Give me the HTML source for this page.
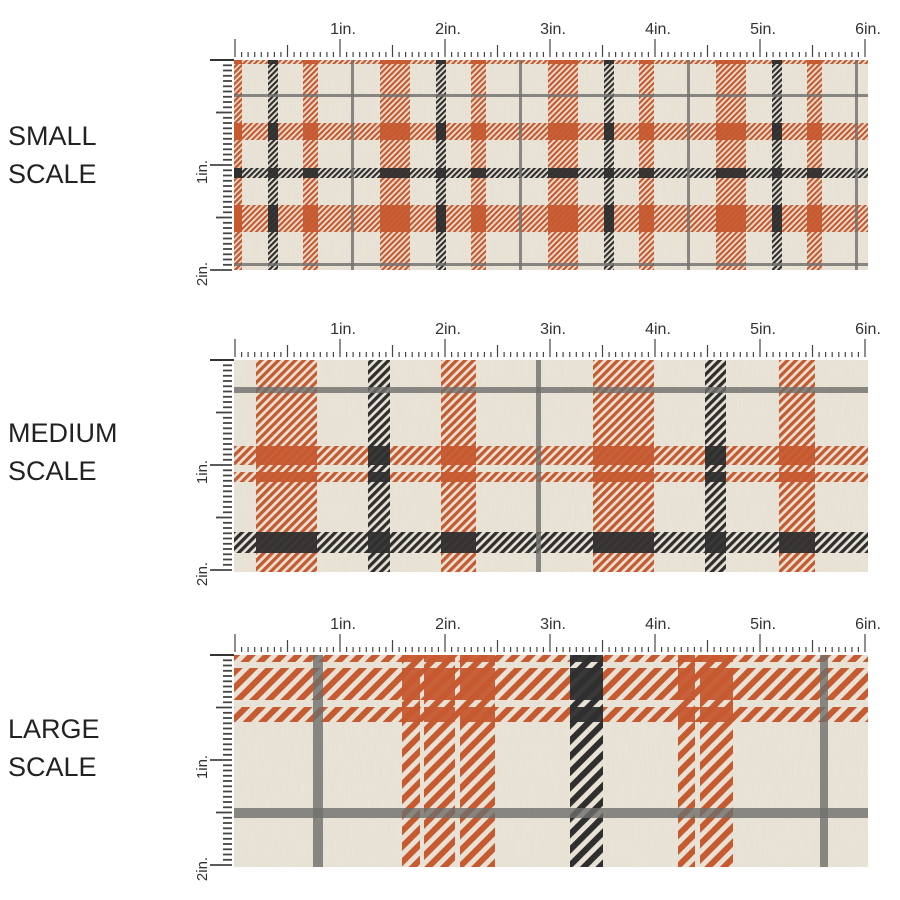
<!DOCTYPE html>
<html><head><meta charset="utf-8">
<style>
html,body{margin:0;padding:0;background:#fff;}
svg{display:block;}
text{font-family:"Liberation Sans",sans-serif;}
</style></head>
<body>
<svg id="s" width="900" height="900" viewBox="0 0 900 900" xmlns="http://www.w3.org/2000/svg">
<defs>
<filter id="tex" x="0" y="0" width="100%" height="100%">
<feTurbulence type="fractalNoise" baseFrequency="0.9 0.05" numOctaves="2" seed="3"/>
<feColorMatrix values="0 0 0 0 0.55  0 0 0 0 0.5  0 0 0 0 0.4  0 0 0 0.18 0"/>
<feComposite in2="SourceGraphic" operator="in"/>
</filter>
</defs>
<g id="g"></g>
</svg>
<script>
var O='#c65a30',K='#2f2f2f',G='#6e6e6c',BG='#ece6da';
var out='';
var defs='';
function pat(id,color,p,w){
  defs+='<pattern id="'+id+'" patternUnits="userSpaceOnUse" width="'+p+'" height="'+p+'" patternTransform="rotate(45)"><rect x="0" y="0" width="'+w+'" height="'+p+'" fill="'+color+'"/></pattern>';
}
function panel(n,top,bot,V,H,hp){
  var L=234,R=868;
  pat('o'+n,O,hp,hp*0.55);pat('k'+n,K,hp,hp*0.55);
  out+='<clipPath id="c'+n+'"><rect x="'+L+'" y="'+top+'" width="'+(R-L)+'" height="'+(bot-top)+'"/></clipPath>';
  out+='<rect x="'+L+'" y="'+top+'" width="'+(R-L)+'" height="'+(bot-top)+'" fill="'+BG+'"/>';
  out+='<rect x="'+L+'" y="'+top+'" width="'+(R-L)+'" height="'+(bot-top)+'" fill="'+BG+'" filter="url(#tex)"/>';
  out+='<g clip-path="url(#c'+n+')">';
  H.forEach(function(h){ if(h[2]!='g') out+='<rect x="'+L+'" y="'+h[0]+'" width="'+(R-L)+'" height="'+(h[1]-h[0])+'" fill="url(#'+(h[2]=='o'?'o':'k')+n+')"/>';});
  V.forEach(function(v){ if(v[2]!='g') out+='<rect x="'+v[0]+'" y="'+top+'" width="'+(v[1]-v[0])+'" height="'+(bot-top)+'" fill="url(#'+(v[2]=='o'?'o':'k')+n+')"/>';});
  V.forEach(function(v){H.forEach(function(h){
    if(v[2]=='g'||h[2]=='g')return;
    var c=(v[2]=='k'||h[2]=='k')?K:O;
    out+='<rect x="'+v[0]+'" y="'+h[0]+'" width="'+(v[1]-v[0])+'" height="'+(h[1]-h[0])+'" fill="'+c+'" opacity="0.95"/>';
  });});
  H.forEach(function(h){ if(h[2]=='g') out+='<rect x="'+L+'" y="'+h[0]+'" width="'+(R-L)+'" height="'+(h[1]-h[0])+'" fill="'+G+'" opacity="0.8"/>';});
  V.forEach(function(v){ if(v[2]=='g') out+='<rect x="'+v[0]+'" y="'+top+'" width="'+(v[1]-v[0])+'" height="'+(bot-top)+'" fill="'+G+'" opacity="0.8"/>';});
  out+='</g>';
  // top ruler
  var rb=top-3;
  for(var i=0;i<=96;i++){
    var x=235+i*105/16, len=(i%16==0)?18:(i%8==0?12:5);
    out+='<line x1="'+x.toFixed(1)+'" y1="'+(rb-len)+'" x2="'+x.toFixed(1)+'" y2="'+rb+'" stroke="#444" stroke-width="1.2"/>';
    if(i%16==0&&i>0) out+='<text x="'+(x+3)+'" y="'+(rb-23)+'" font-size="16" fill="#333" text-anchor="middle">'+(i/16)+'in.</text>';
  }
  // left ruler
  out+='<line x1="210" y1="'+top+'" x2="234" y2="'+top+'" stroke="#333" stroke-width="2"/>';
  for(var j=1;j<=40;j++){
    var y=top+j*105/20, l2=(j%20==0)?22:(j%10==0?16:9);
    if(y>bot+3)break;
    out+='<line x1="'+(232-l2)+'" y1="'+y.toFixed(1)+'" x2="232" y2="'+y.toFixed(1)+'" stroke="#444" stroke-width="1.8"/>';
  }
  out+='<text transform="translate(207,'+(top+112)+') rotate(-90)" font-size="15" fill="#333" text-anchor="middle">1in.</text>';
  out+='<text transform="translate(207,'+(top+214)+') rotate(-90)" font-size="15" fill="#333" text-anchor="middle">2in.</text>';
}
var V1=[],H1;
[100,268,436,604,772].forEach(function(b){
  V1.push([b,b+10,'k']);V1.push([b+35,b+50,'o']);V1.push([b+83,b+86,'g']);V1.push([b+112,b+142,'o']);
});
V1.push([204,242,'o']);
H1=[[60,64,'o'],[94,97,'g'],[123,140,'o'],[168,178,'k'],[205,232,'o'],[263,266,'g']];
panel(1,60,270,V1,H1,4);
var V2=[[256,317,'o'],[368,390,'k'],[441,476,'o'],[536,541,'g'],[593,654,'o'],[705,726,'k'],[779,815,'o']];
var H2=[[387,393,'g'],[446,465,'o'],[472,482,'o'],[532,553,'k']];
panel(2,360,572,V2,H2,6);
var V3=[[313,323,'g'],[402,420,'o'],[424,455,'o'],[460,495,'o'],[570,603,'k'],[678,695,'o'],[700,733,'o'],[820,828,'g']];
var H3=[[655,662,'o'],[668,700,'o'],[707,722,'o'],[808,818,'g']];
panel(3,655,867,V3,H3,11);
function lab(t,y){out+='<text x="8" y="'+y+'" font-size="27" fill="#222">'+t+'</text>';}
lab('SMALL',145);lab('SCALE',183);lab('MEDIUM',442);lab('SCALE',480);lab('LARGE',738);lab('SCALE',776);
var svg=document.getElementById('s');
var d=svg.querySelector('defs');
var tmp=new DOMParser().parseFromString('<svg xmlns="http://www.w3.org/2000/svg">'+defs+'</svg>','image/svg+xml');
Array.prototype.slice.call(tmp.documentElement.childNodes).forEach(function(c){d.appendChild(document.importNode(c,true));});
var tmp2=new DOMParser().parseFromString('<svg xmlns="http://www.w3.org/2000/svg">'+out+'</svg>','image/svg+xml');
var g=document.getElementById('g');
Array.prototype.slice.call(tmp2.documentElement.childNodes).forEach(function(c){
  if(c.nodeName=='clipPath')d.appendChild(document.importNode(c,true));else g.appendChild(document.importNode(c,true));
});
</script>
</body></html>
